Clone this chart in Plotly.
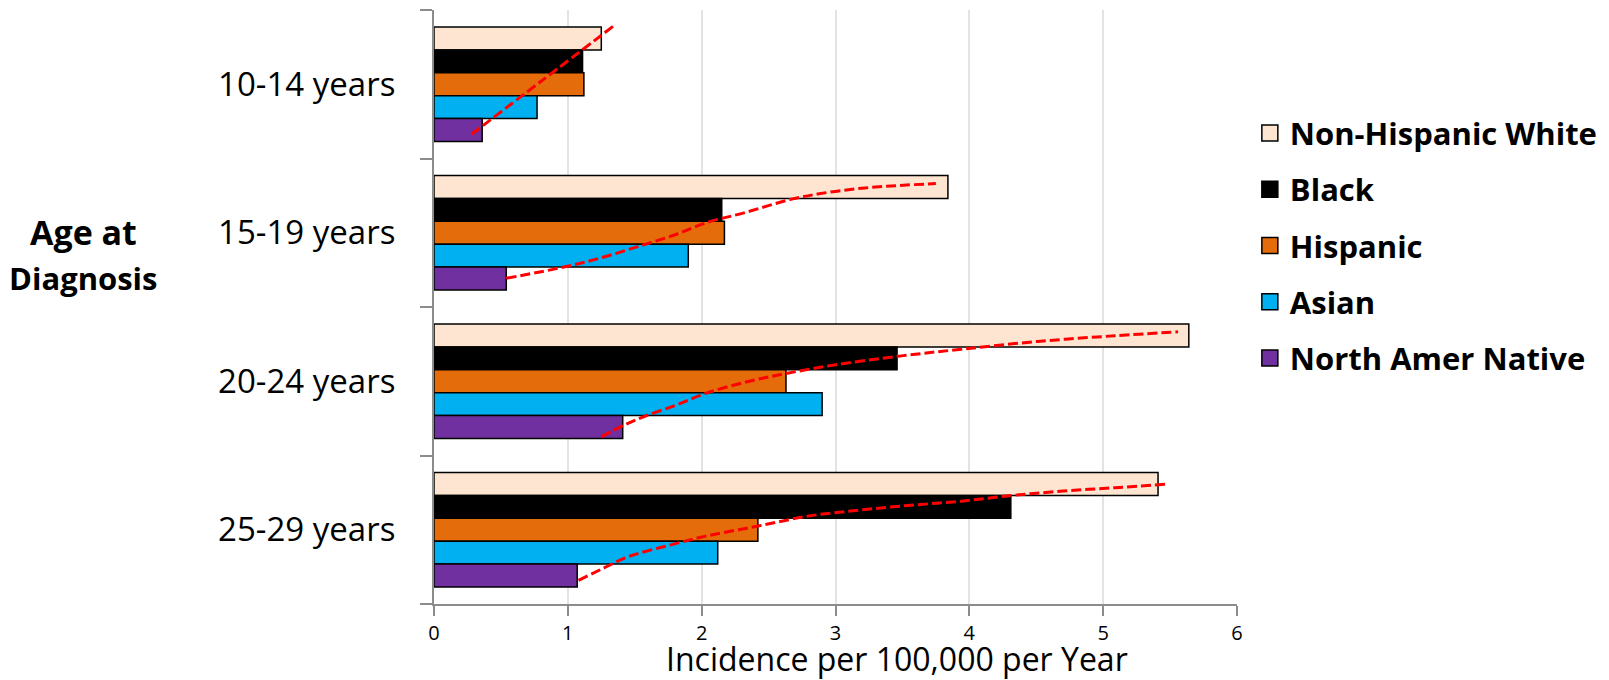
import plotly.graph_objects as go

# ---------------- data ----------------
age_groups = ["10-14 years", "15-19 years", "20-24 years", "25-29 years"]
series_names = ["Non-Hispanic White", "Black", "Hispanic", "Asian", "North Amer Native"]
nhw = [1.25, 3.84, 5.64, 5.41]
black = [1.11, 2.15, 3.46, 4.31]
hispanic = [1.12, 2.17, 2.63, 2.42]
asian = [0.77, 1.90, 2.90, 2.12]
native = [0.36, 0.54, 1.41, 1.07]
colors = ["#FDE5D2", "#000000", "#E46C0A", "#00B0F0", "#7030A0"]

# red dashed trend curves: value (x) and bar-slot position within group (0 = top bar, 4 = bottom bar)
trend_1_x = [0.28, 0.80, 1.34]
trend_1_slot = [4.19, 1.87, -0.54]
trend_2_x = [0.54, 0.97, 1.24, 1.51, 1.78, 2.04, 2.31, 2.68, 2.95, 3.22, 3.48, 3.75]
trend_2_slot = [3.99, 3.50, 3.11, 2.63, 2.13, 1.55, 1.14, 0.52, 0.23, 0.04, -0.07, -0.15]
trend_3_x = [1.25, 1.42, 1.58, 1.81, 2.03, 2.34, 2.64, 2.99, 3.45, 3.94, 4.51, 5.09, 5.56]
trend_3_slot = [4.43, 3.92, 3.52, 3.04, 2.53, 2.02, 1.65, 1.29, 0.92, 0.60, 0.26, 0.01, -0.16]
trend_4_x = [1.08, 1.27, 1.46, 1.73, 2.03, 2.42, 2.80, 3.18, 3.56, 3.94, 4.32, 4.70, 5.09, 5.47]
trend_4_slot = [4.21, 3.67, 3.16, 2.72, 2.28, 1.84, 1.40, 1.14, 0.93, 0.75, 0.50, 0.31, 0.16, 0.01]

x_ticks = [0, 1, 2, 3, 4, 5, 6]
# --------------------------------------

BARGAP = 0.23
n_series = len(series_names)
slot_w = (1 - BARGAP) / n_series

FONT = "Open Sans"
fig = go.Figure()
group_pos = list(range(len(age_groups)))
all_vals = [nhw, black, hispanic, asian, native]
for name, vals, col in zip(series_names, all_vals, colors):
    fig.add_trace(go.Bar(
        y=group_pos, x=vals, orientation="h", name=name,
        marker=dict(color=col, line=dict(color="#000000", width=1.5)),
        showlegend=False, hoverinfo="x+name",
    ))

trends = [(trend_1_x, trend_1_slot), (trend_2_x, trend_2_slot),
          (trend_3_x, trend_3_slot), (trend_4_x, trend_4_slot)]
for g, (tx, ts) in enumerate(trends):
    ty = [g - (1 - BARGAP) / 2 + slot_w * (s + 0.5) for s in ts]
    fig.add_trace(go.Scatter(
        x=tx, y=ty, mode="lines",
        line=dict(color="#FF0000", width=3, dash="10px,4px", shape="spline"),
        showlegend=False, hoverinfo="skip",
    ))

# legend entries
for name, col in zip(series_names, colors):
    fig.add_trace(go.Scatter(
        x=[None], y=[None], mode="markers", name=name, legendgroup=name,
        marker=dict(symbol="square", size=16, color=col, line=dict(color="#000000", width=1.5)),
    ))

fig.update_layout(
    width=1601, height=672,
    margin=dict(l=426, r=372, t=2, b=76),
    plot_bgcolor="white", paper_bgcolor="white",
    barmode="group", bargap=BARGAP, bargroupgap=0,
    font=dict(family=FONT, color="#000000"),
    legend=dict(
        x=1.016, xanchor="left", y=0.838, yanchor="top",
        font=dict(family=FONT, size=31, color="#000000", weight="bold"),
        tracegroupgap=13, itemsizing="trace",
        bgcolor="rgba(0,0,0,0)", borderwidth=0,
    ),
    xaxis=dict(
        range=[0, 6], tickvals=x_ticks, ticktext=[str(t) for t in x_ticks],
        showgrid=True, gridcolor="#E3E3E3", gridwidth=1.5,
        showline=True, linecolor="#8C8C8C", linewidth=2,
        ticks="outside", ticklen=10, tickwidth=2, tickcolor="#8C8C8C",
        zeroline=False, tickfont=dict(size=20, family=FONT),
        ticklabelstandoff=0,
    ),
    yaxis=dict(
        range=[3.5, -0.5], tickvals=group_pos, ticktext=age_groups,
        showgrid=False, zeroline=False,
        showline=True, linecolor="#8C8C8C", linewidth=2,
        ticks="", tickfont=dict(size=33, family=FONT),
        ticklabelstandoff=30,
        minor=dict(tickvals=[-0.5, 0.5, 1.5, 2.5, 3.5], ticks="outside", ticklen=12,
                   tickwidth=2, tickcolor="#8C8C8C", showgrid=False),
    ),
    annotations=[
        dict(text="Incidence per 100,000 per Year", xref="paper", yref="paper",
             x=0.577, y=-0.092, xanchor="center", yanchor="middle", showarrow=False,
             font=dict(size=32, family=FONT)),
        dict(text="<b>Age at</b>", xref="paper", yref="paper",
             x=-0.436, y=0.627, xanchor="center", yanchor="middle", showarrow=False,
             font=dict(size=34, family=FONT)),
        dict(text="<b>Diagnosis</b>", xref="paper", yref="paper",
             x=-0.436, y=0.548, xanchor="center", yanchor="middle", showarrow=False,
             font=dict(size=31, family=FONT)),
    ],
)

fig.write_html("out.html")
